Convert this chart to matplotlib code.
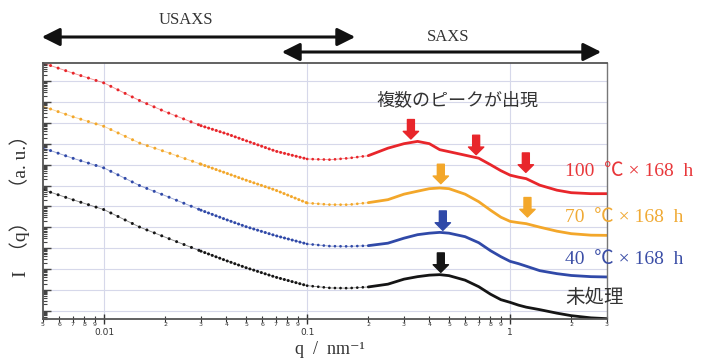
import numpy as np
import matplotlib
matplotlib.use('Agg')
import matplotlib.pyplot as plt
from matplotlib.ticker import LogLocator, FuncFormatter, NullFormatter

# q grid (nm^-1) and log10 intensity (a.u.)
q = [0.005, 0.007, 0.01, 0.015, 0.02, 0.03, 0.04, 0.05, 0.07, 0.1,
     0.13, 0.16, 0.2, 0.25, 0.3, 0.35, 0.4, 0.45, 0.5, 0.6,
     0.7, 0.8, 0.9, 1.0, 1.1, 1.2, 1.4, 1.7, 2.0, 2.5, 3.0]

log_100C = [11.880, 11.400, 10.921, 10.072, 9.544, 8.873, 8.489, 8.153, 7.650, 7.276,
            7.242, 7.314, 7.434, 7.794, 8.010, 8.120, 8.010, 7.722, 7.626, 7.458,
            7.314, 7.002, 6.715, 6.499, 6.403, 6.331, 6.019, 5.779, 5.659, 5.612, 5.612]
log_70C = [9.799, 9.305, 8.839, 8.034, 7.626, 7.026, 6.595, 6.259, 5.779, 5.165,
           5.084, 5.084, 5.180, 5.324, 5.588, 5.731, 5.851, 5.885, 5.851, 5.588,
           5.228, 4.820, 4.484, 4.283, 4.221, 4.173, 4.005, 3.813, 3.693, 3.621, 3.612]
log_40C = [7.803, 7.314, 6.844, 5.995, 5.516, 4.820, 4.365, 4.029, 3.597, 3.199,
           3.094, 3.084, 3.118, 3.237, 3.477, 3.645, 3.717, 3.755, 3.717, 3.549,
           3.261, 2.878, 2.590, 2.365, 2.254, 2.134, 1.918, 1.775, 1.688, 1.631, 1.616]
log_raw = [5.803, 5.324, 4.844, 4.005, 3.525, 2.854, 2.398, 2.062, 1.607, 1.199,
           1.089, 1.079, 1.137, 1.271, 1.511, 1.631, 1.703, 1.727, 1.679, 1.463,
           1.151, 0.791, 0.528, 0.398, 0.264, 0.168, 0.048, -0.120, -0.240, -0.345, -0.384]

labels = ['100  ℃ × 168  h', '70  ℃ × 168  h', '40  ℃ × 168  h', '未処理']

# peak markers: (series index, q, log10 I at arrow tip)
peak_arrows = [(0, 0.3245, 8.235), (0, 0.680, 7.482), (0, 1.195, 6.633),
               (1, 0.4556, 6.091), (1, 1.217, 4.494),
               (2, 0.4661, 3.851),
               (3, 0.4556, 1.837)]

colors = ['#e8262b', '#f3a72a', '#3049a8', '#151515']
text_colors = ['#e8373a', '#f0aa35', '#3b4ea6', '#333333']
series = [log_100C, log_70C, log_40C, log_raw]

serif_jp = ['Liberation Serif', 'Noto Sans CJK JP']

W, H = 704, 362
fig = plt.figure(figsize=(W / 100., H / 100.), dpi=100)
ax = fig.add_axes([43 / W, 1 - 319 / H, (607 - 43) / W, (319 - 63) / H])

qa = np.array(q)
i_usaxs = q.index(0.1)
i_dot = q.index(0.2)

for ls, c in zip(series, colors):
  I = 10 ** np.array(ls)
  # USAXS points: thin line + dots
  ax.plot(qa[:i_usaxs + 1], I[:i_usaxs + 1], color=c, lw=0.6, alpha=0.5)
  ax.plot(qa[:6], I[:6], color=c, lw=2.2, linestyle=(0, (0.01, 2.6)),
          dash_capstyle='round')
  ax.plot(qa[5:i_usaxs + 1], I[5:i_usaxs + 1], color=c, lw=2.2,
          linestyle=(0, (0.01, 1.3)), dash_capstyle='round')
  # SAXS low q: dotted, then solid
  ax.plot(qa[i_usaxs:i_dot + 1], I[i_usaxs:i_dot + 1], color=c, lw=0.6, alpha=0.5)
  ax.plot(qa[i_usaxs:i_dot + 1], I[i_usaxs:i_dot + 1], color=c, lw=2.0,
          linestyle=(0, (0.01, 2.0)), dash_capstyle='round')
  ax.plot(qa[i_dot:], I[i_dot:], color=c, lw=2.0, solid_capstyle='round',
          solid_joinstyle='round')

for k, xq, ly in peak_arrows:
  ax.annotate('', xy=(xq, 10 ** ly), xytext=(0, 14), textcoords='offset points',
              arrowprops=dict(arrowstyle='simple,head_length=0.55,head_width=1.1,tail_width=0.5',
                              color=colors[k], shrinkA=0, shrinkB=0, mutation_scale=10))

ax.set_xscale('log')
ax.set_yscale('log')
ax.set_xlim(0.005, 3.0)
ax.set_ylim(10 ** -0.4, 10 ** 11.88)

ax.yaxis.set_major_locator(LogLocator(base=10, numticks=30))
ax.yaxis.set_minor_locator(LogLocator(base=10, subs=np.arange(2, 10), numticks=30))
ax.yaxis.set_major_formatter(NullFormatter())
ax.yaxis.set_minor_formatter(NullFormatter())
ax.tick_params(axis='y', which='major', direction='in', length=6, width=1.0, color='#444444')
ax.tick_params(axis='y', which='minor', direction='in', length=3, width=0.8, color='#444444')

def major_fmt(v, pos):
  return {0.01: '0.01', 0.1: '0.1', 1.0: '1'}.get(round(v, 4), '')

def minor_fmt(v, pos):
  e = np.floor(np.log10(v) + 1e-9)
  return '%d' % round(v / 10 ** e)

ax.xaxis.set_major_locator(LogLocator(base=10, numticks=10))
ax.xaxis.set_minor_locator(LogLocator(base=10, subs=np.arange(2, 10), numticks=10))
ax.xaxis.set_major_formatter(FuncFormatter(major_fmt))
ax.xaxis.set_minor_formatter(FuncFormatter(minor_fmt))
ax.tick_params(axis='x', which='major', direction='inout', length=7, width=1.0,
               labelsize=6.5, pad=3, color='#333333', labelcolor='#333333')
ax.tick_params(axis='x', which='minor', direction='inout', length=4, width=0.8,
               labelsize=4.5, pad=0.5, color='#333333', labelcolor='#333333')

ax.grid(True, which='major', color='#d6d8ea', lw=0.8)
for s in ['left', 'top', 'bottom']:
  ax.spines[s].set_color('#555555')
  ax.spines[s].set_linewidth(1.3)
ax.spines['right'].set_color('#777777')
ax.spines['right'].set_linewidth(1.0)

fig.text(330 / W, 1 - 350 / H, 'q  /  nm⁻¹', ha='center', va='center',
         family=['Liberation Serif', 'DejaVu Serif'], fontsize=13, color='#333333')
fig.text(20 / W, 1 - 201 / H, 'I  （q）   （a. u.）', rotation=90, ha='center', va='center',
         family=serif_jp, fontsize=14, color='#333333')

# series labels at right
label_y = [172, 218, 260, 298]
for lab, yy, c in zip(labels, label_y, text_colors):
  fig.text(565 / W, 1 - yy / H, lab, ha='left', va='center', family=serif_jp,
           fontsize=14, color=c)

fig.text(457 / W, 1 - 101 / H, '複数のピークが出現', ha='center', va='center',
         family=['Noto Sans CJK JP'], fontsize=13, color='#333333')

# USAXS / SAXS ranges
fig.patches.append(matplotlib.patches.FancyArrowPatch(
    (39 / W, 1 - 37 / H), (358 / W, 1 - 37 / H), transform=fig.transFigure,
    arrowstyle='<|-|>,head_length=0.9,head_width=0.45', mutation_scale=12,
    color='#111111', lw=2.2))
fig.patches.append(matplotlib.patches.FancyArrowPatch(
    (279 / W, 1 - 52 / H), (604 / W, 1 - 52 / H), transform=fig.transFigure,
    arrowstyle='<|-|>,head_length=0.9,head_width=0.45', mutation_scale=12,
    color='#111111', lw=2.2))
fig.text(186 / W, 1 - 20 / H, 'USAXS', ha='center', va='center',
         family=['Liberation Serif'], fontsize=12, color='#333333')
fig.text(448 / W, 1 - 37 / H, 'SAXS', ha='center', va='center',
         family=['Liberation Serif'], fontsize=12, color='#333333')

fig.savefig('out.png', dpi=100)
